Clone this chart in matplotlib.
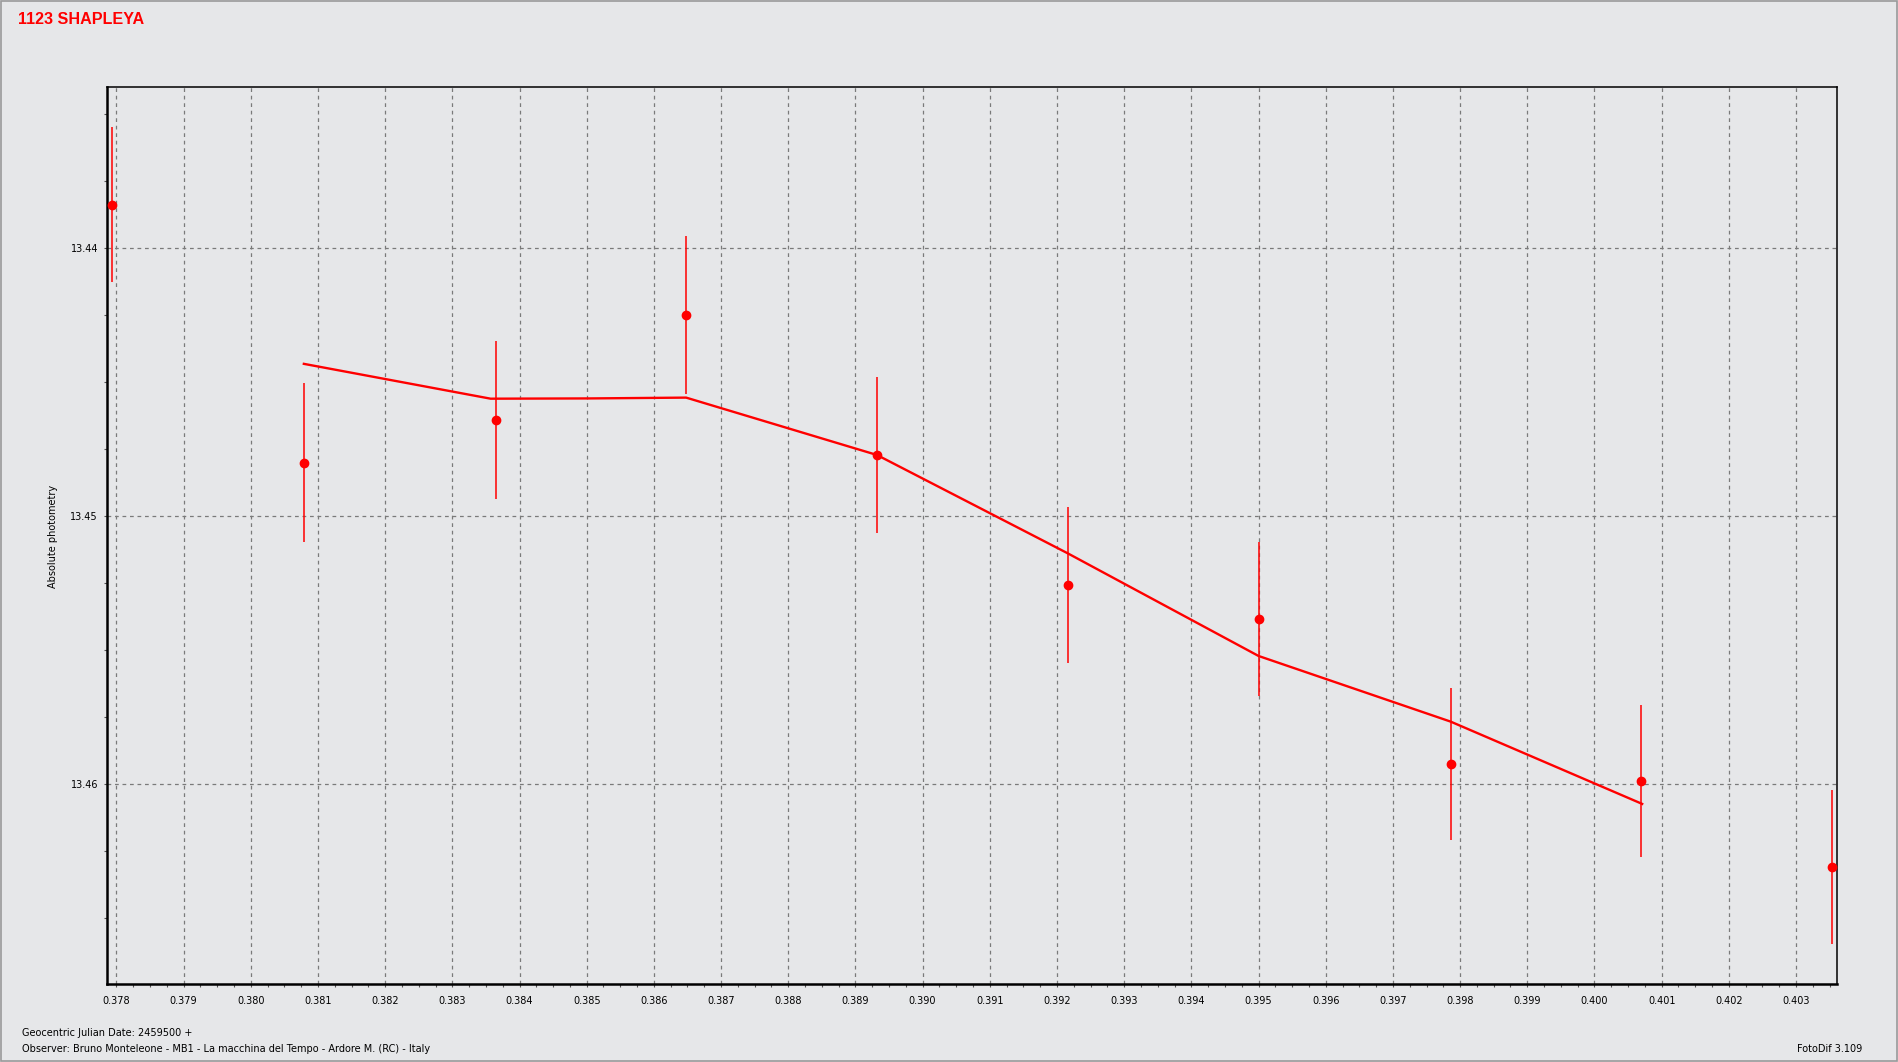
import matplotlib
matplotlib.use("Agg")
import matplotlib.pyplot as plt
from matplotlib.ticker import MultipleLocator, FormatStrFormatter
from matplotlib.patches import Rectangle

# ---- data ----
obs_jd = [0.37794, 0.38079, 0.38365, 0.38648, 0.38932, 0.39216, 0.39500, 0.39786, 0.40069, 0.40353]
obs_mag = [13.43837, 13.44800, 13.44641, 13.44248, 13.44771, 13.45256, 13.45382, 13.45924, 13.45987, 13.46307]
obs_err = [0.00290, 0.00296, 0.00296, 0.00295, 0.00290, 0.00290, 0.00288, 0.00285, 0.00283, 0.00287]

fit_jd = [0.38079, 0.38357, 0.38505, 0.38648, 0.38932, 0.39216, 0.39500, 0.39786, 0.40071]
fit_mag = [13.44431, 13.44561, 13.44560, 13.44557, 13.44771, 13.45138, 13.45521, 13.45766, 13.46073]

title = "1123 SHAPLEYA"
ylabel = "Absolute photometry"
footer1 = "Geocentric Julian Date: 2459500 +"
footer2 = "Observer: Bruno Monteleone - MB1 - La macchina del Tempo - Ardore M. (RC) - Italy"
version = "FotoDif 3.109"

bg = "#E6E7E9"
red = "#FF0000"
small = 7.0

fig = plt.figure(figsize=(18.98, 10.62), dpi=100, facecolor=bg)
ax = fig.add_axes([107/1898, 1-984/1062, (1837-107)/1898, (984-87)/1062])
ax.set_facecolor(bg)

ax.plot(fit_jd, fit_mag, color=red, lw=1.7, zorder=3)
ax.errorbar(obs_jd, obs_mag, yerr=obs_err, fmt='o', color=red, ms=6,
            elinewidth=1.1, capsize=0, zorder=4)

ax.set_xlim(0.37786, 0.40361)
ax.set_ylim(13.46745, 13.43398)

ax.xaxis.set_major_locator(MultipleLocator(0.001))
ax.xaxis.set_minor_locator(MultipleLocator(0.00025))
ax.xaxis.set_major_formatter(FormatStrFormatter('%.3f'))
ax.yaxis.set_major_locator(MultipleLocator(0.01))
ax.yaxis.set_minor_locator(MultipleLocator(0.0025))
ax.yaxis.set_major_formatter(FormatStrFormatter('%.2f'))

ax.grid(True, which='major', color='#7a7a7a', linestyle=(0, (3, 3)), linewidth=0.9)
ax.tick_params(which='both', direction='out', length=2.5, width=0.8, color='#555555',
               labelsize=small, labelcolor='#000000')
ax.tick_params(axis='x', pad=6)
ax.tick_params(axis='y', pad=4)

for side in ['left', 'bottom']:
    ax.spines[side].set_linewidth(1.8)
for side in ['top', 'right']:
    ax.spines[side].set_linewidth(1.1)
for s in ax.spines.values():
    s.set_color('black')

fig.text(53/1898, 1-536/1062, ylabel, rotation=90, ha='center', va='center',
         fontsize=small, color='black')

fig.text(18/1898, 1-20/1062, title, ha='left', va='center', fontsize=11.6,
         fontweight='bold', color=red, family='Liberation Sans')

fig.text(22/1898, 1-1033/1062, footer1, ha='left', va='center', fontsize=small, color='black')
fig.text(22/1898, 1-1049/1062, footer2, ha='left', va='center', fontsize=small, color='black')
fig.text(1862/1898, 1-1049/1062, version, ha='right', va='center', fontsize=small, color='black')

fig.patches.append(Rectangle((0.0005, 0.001), 0.999, 0.998, transform=fig.transFigure,
                             fill=False, edgecolor='#9a9a9a', linewidth=1.2))

fig.savefig("out.png", dpi=100, facecolor=bg)
